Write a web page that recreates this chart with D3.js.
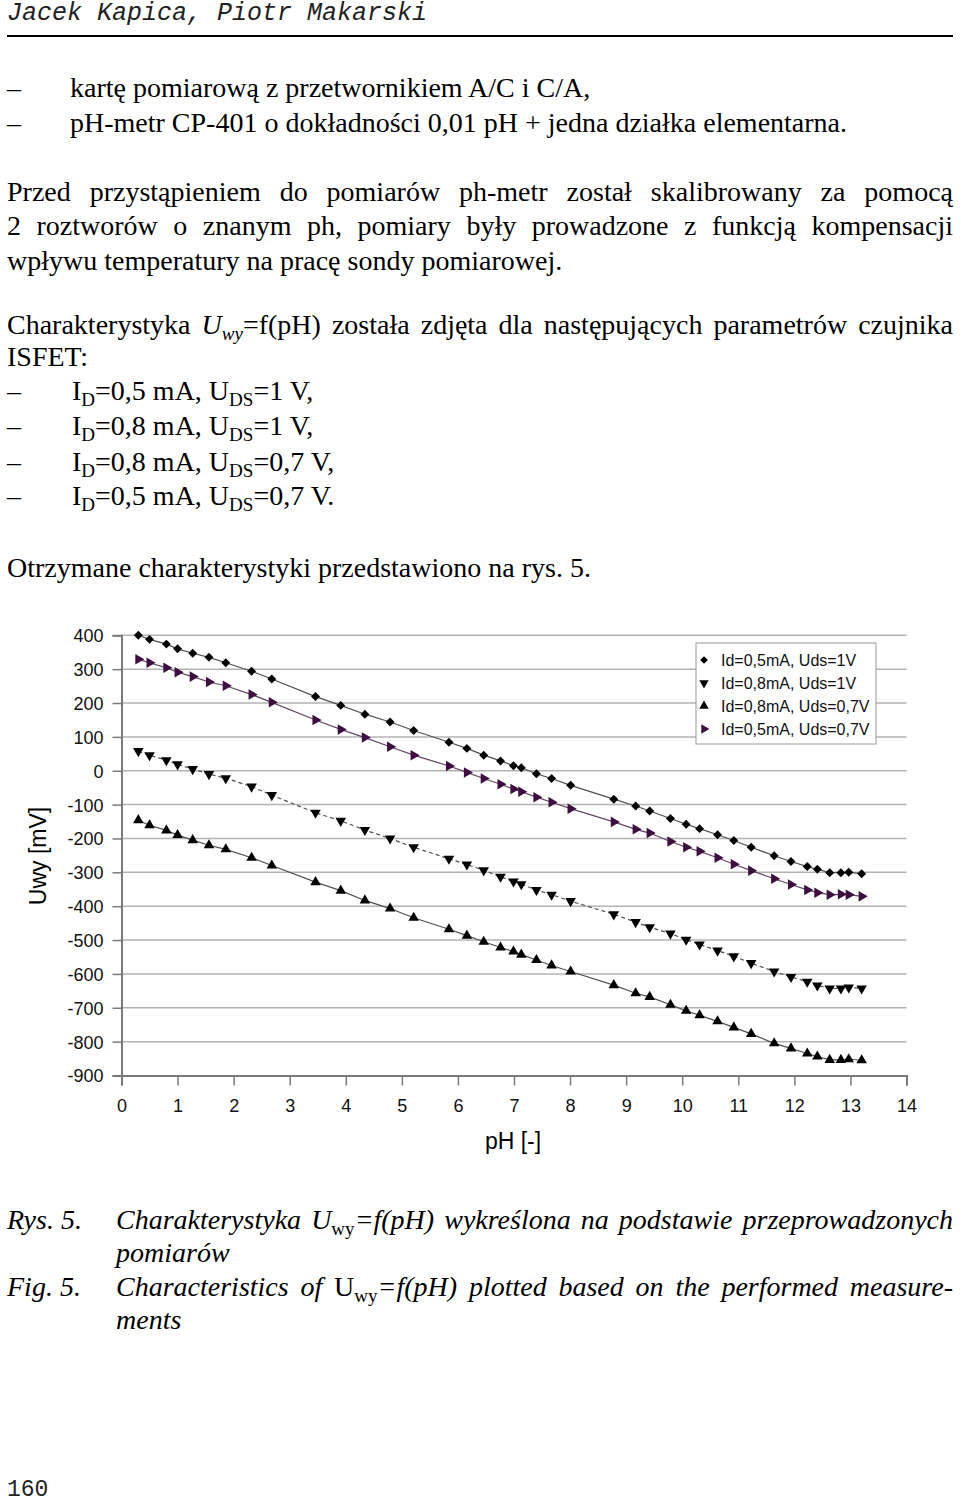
<!DOCTYPE html>
<html><head><meta charset="utf-8">
<script src="https://cdn.jsdelivr.net/npm/d3@7"></script>
<style>html,body{margin:0;padding:0;background:#fff;} svg{display:block;}</style>
</head><body>
<svg id="page" width="960" height="1504"></svg>
<script>
// ---------- data ----------
const pH = [0.3, 0.5, 0.8, 1.0, 1.27, 1.56, 1.86, 2.32, 2.68, 3.46, 3.91, 4.34, 4.79, 5.21, 5.84, 6.16, 6.46, 6.76, 6.99, 7.13, 7.4, 7.67, 8.01, 8.78, 9.17, 9.42, 9.79, 10.07, 10.31, 10.63, 10.92, 11.23, 11.64, 11.94, 12.23, 12.41, 12.63, 12.83, 12.97, 13.2];
const id05_uds1 = [400, 388, 374, 360, 347, 335, 319, 294, 271, 219, 193, 167, 144, 119, 84, 66, 46, 29, 15, 9, -9, -23, -43, -84, -104, -119, -141, -158, -171, -189, -206, -226, -251, -268, -283, -291, -301, -301, -300, -304];
const id08_uds1 = [58, 46, 31, 19, 5, -10, -22, -47, -72, -124, -148, -175, -200, -226, -260, -277, -294, -313, -327, -335, -352, -366, -385, -424, -447, -462, -481, -499, -513, -531, -548, -568, -593, -609, -623, -634, -643, -643, -640, -643];
const id08_uds07 = [-146, -161, -176, -190, -205, -220, -232, -257, -280, -329, -354, -383, -407, -434, -468, -487, -505, -522, -534, -543, -559, -575, -593, -633, -657, -668, -691, -709, -722, -740, -758, -777, -805, -820, -835, -844, -854, -854, -852, -855];
const id05_uds07 = [329, 319, 304, 291, 278, 262, 251, 225, 202, 150, 122, 98, 71, 46, 14, -5, -23, -40, -54, -62, -78, -93, -112, -151, -173, -184, -209, -226, -238, -257, -276, -295, -319, -336, -352, -360, -366, -365, -366, -371];
const seriesNames = ["Id=0,5mA, Uds=1V", "Id=0,8mA, Uds=1V", "Id=0,8mA, Uds=0,7V", "Id=0,5mA, Uds=0,7V"];
const yTicks = [400, 300, 200, 100, 0, -100, -200, -300, -400, -500, -600, -700, -800, -900];
const xTicks = [0,1,2,3,4,5,6,7,8,9,10,11,12,13,14];

const svg = d3.select("#page");
const SERIF = "'Liberation Serif','Times New Roman',serif";
const SANS = "'Liberation Sans',Arial,sans-serif";
const MONO = "'Liberation Mono','Courier New',monospace";

// ---------- text helper ----------
function textLine(x, y, parts, opt) {
  opt = opt || {};
  const fs = opt.size || 28;
  const t = svg.append("text").attr("x", x).attr("y", y)
    .attr("font-family", opt.family || SERIF).attr("font-size", fs)
    .attr("font-style", opt.italic ? "italic" : "normal").attr("fill", "#000");
  let inSub = false;
  parts.forEach(p => {
    const s = typeof p === "string" ? {t: p} : p;
    const ts = t.append("tspan").text(s.t);
    if (s.sub && !inSub) { ts.attr("dy", fs * 0.2); inSub = true; }
    else if (!s.sub && inSub) { ts.attr("dy", -fs * 0.2); inSub = false; }
    if (s.sub) ts.attr("font-size", fs * 0.68);
    if (s.i !== undefined) ts.attr("font-style", s.i ? "italic" : "normal");
  });
  if (opt.justify) {
    const w = t.node().getComputedTextLength();
    const str = parts.map(p => typeof p === "string" ? p : p.t).join("");
    const n = (str.match(/ /g) || []).length;
    if (n > 0) t.attr("word-spacing", (opt.justify - x - w) / n);
  }
  return t;
}

// header
textLine(7, 20, ["Jacek Kapica, Piotr Makarski"], {family: MONO, size: 25, italic: true}).attr("fill", "#222");
svg.append("line").attr("x1", 7).attr("x2", 953).attr("y1", 36).attr("y2", 36).attr("stroke", "#000").attr("stroke-width", 2);

const dash = (y) => textLine(7, y, ["–"]);
dash(97); textLine(70, 97, ["kartę pomiarową z przetwornikiem A/C i C/A,"]);
dash(132); textLine(70, 132, ["pH-metr CP-401 o dokładności 0,01 pH + jedna działka elementarna."]);

textLine(7, 201, ["Przed przystąpieniem do pomiarów ph-metr został skalibrowany za pomocą"], {justify: 953});
textLine(7, 235, ["2 roztworów o znanym ph, pomiary były prowadzone z funkcją kompensacji"], {justify: 953});
textLine(7, 270, ["wpływu temperatury na pracę sondy pomiarowej."]);

textLine(7, 334, ["Charakterystyka ", {t: "U", i: true}, {t: "wy", sub: true, i: true}, "=f(pH) została zdjęta dla następujących parametrów czujnika"], {justify: 953});
textLine(7, 366, ["ISFET:"]);
const params = [["0,5", "1"], ["0,8", "1"], ["0,8", "0,7"], ["0,5", "0,7"]];
[400, 435, 471, 505].forEach((y, i) => {
  dash(y);
  textLine(72, y, ["I", {t: "D", sub: true}, "=" + params[i][0] + " mA, U", {t: "DS", sub: true}, "=" + params[i][1] + " V" + (i === 3 ? "." : ",")]);
});
textLine(7, 577, ["Otrzymane charakterystyki przedstawiono na rys. 5."]);

// ---------- chart ----------
const x = d3.scaleLinear().domain([0, 14]).range([121.5, 906.5]);
const y = d3.scaleLinear().domain([-900, 400]).range([1075.5, 635.3]);

const g = svg.append("g");
// gridlines
g.append("g").selectAll("line").data(yTicks.filter(v => v > -900)).join("line")
  .attr("x1", x(0)).attr("x2", x(14)).attr("y1", d => y(d)).attr("y2", d => y(d))
  .attr("stroke", "#b3b3b3").attr("stroke-width", 1.5);

// axes
const yAxis = d3.axisLeft(y).tickValues(yTicks).tickSize(9).tickPadding(9).tickFormat(d => String(d));
const yg = g.append("g").attr("transform", `translate(${x(0)},0)`).call(yAxis);
const xAxis = d3.axisBottom(x).tickValues(xTicks).tickSize(10).tickPadding(14).tickFormat(d => String(d));
const xg = g.append("g").attr("transform", `translate(0,${y(-900)})`).call(xAxis);
[yg, xg].forEach(a => {
  a.select(".domain").attr("stroke", "#7a7a7a").attr("stroke-width", 2);
  a.selectAll(".tick line").attr("stroke", "#7a7a7a").attr("stroke-width", 1.5);
  a.selectAll(".tick text").attr("font-family", SANS).attr("font-size", 18).attr("fill", "#111");
});
yg.selectAll(".tick text").attr("dy", "0.36em");

// axis titles
svg.append("text").attr("x", 513).attr("y", 1149).attr("text-anchor", "middle")
  .attr("font-family", SANS).attr("font-size", 23).text("pH [-]");
svg.append("text").attr("transform", "translate(46,856) rotate(-90)").attr("text-anchor", "middle")
  .attr("font-family", SANS).attr("font-size", 23).text("Uwy [mV]");

// series
const diamond = d3.symbol().type(d3.symbolSquare).size(40)();
const tri = d3.symbol().type(d3.symbolTriangle).size(48)();
const series = [
  {vals: id05_uds1, line: "#505050", dash: null, mark: diamond, rot: 45, fill: "#000"},
  {vals: id08_uds1, line: "#505050", dash: "4,3", mark: tri, rot: 180, fill: "#000"},
  {vals: id08_uds07, line: "#505050", dash: null, mark: tri, rot: 0, fill: "#000"},
  {vals: id05_uds07, line: "#664466", dash: null, mark: tri, rot: 90, fill: "#3d0f40"}
];
const lineGen = d3.line().x(d => x(d[0])).y(d => y(d[1]));
series.forEach(s => {
  const pts = pH.map((p, i) => [p, s.vals[i]]);
  g.append("path").datum(pts).attr("d", lineGen).attr("fill", "none")
    .attr("stroke", s.line).attr("stroke-width", 1.2).attr("stroke-dasharray", s.dash);
  g.append("g").selectAll("path").data(pts).join("path")
    .attr("d", s.mark).attr("fill", s.fill)
    .attr("transform", d => `translate(${x(d[0])},${y(d[1])}) rotate(${s.rot})`);
});

// legend
const lg = svg.append("g");
lg.append("rect").attr("x", 696).attr("y", 643).attr("width", 180).attr("height", 101)
  .attr("fill", "#fff").attr("stroke", "#999").attr("stroke-width", 1);
const legSmallD = d3.symbol().type(d3.symbolSquare).size(30)();
const legSmallT = d3.symbol().type(d3.symbolTriangle).size(38)();
seriesNames.forEach((name, i) => {
  const yy = 660 + i * 23;
  const s = series[i];
  lg.append("path").attr("d", i === 0 ? legSmallD : legSmallT).attr("fill", s.fill)
    .attr("transform", `translate(704,${yy}) rotate(${s.rot})`);
  lg.append("text").attr("x", 721).attr("y", yy + 6).attr("font-family", SANS)
    .attr("font-size", 16).attr("fill", "#111").text(name);
});

// ---------- caption ----------
textLine(7, 1229, ["Rys. 5."], {italic: true});
textLine(116, 1229, ["Charakterystyka U", {t: "wy", sub: true, i: false}, "=f(pH) wykreślona na podstawie przeprowadzonych"], {italic: true, justify: 953});
textLine(116, 1262, ["pomiarów"], {italic: true});
textLine(7, 1296, ["Fig. 5."], {italic: true});
textLine(116, 1296, ["Characteristics of ", {t: "U", i: false}, {t: "wy", sub: true, i: false}, "=f(pH) plotted based on the performed measure-"], {italic: true, justify: 953});
textLine(116, 1329, ["ments"], {italic: true});

textLine(7, 1496, ["160"], {family: MONO, size: 23}).attr("fill", "#222");
</script>
</body></html>
